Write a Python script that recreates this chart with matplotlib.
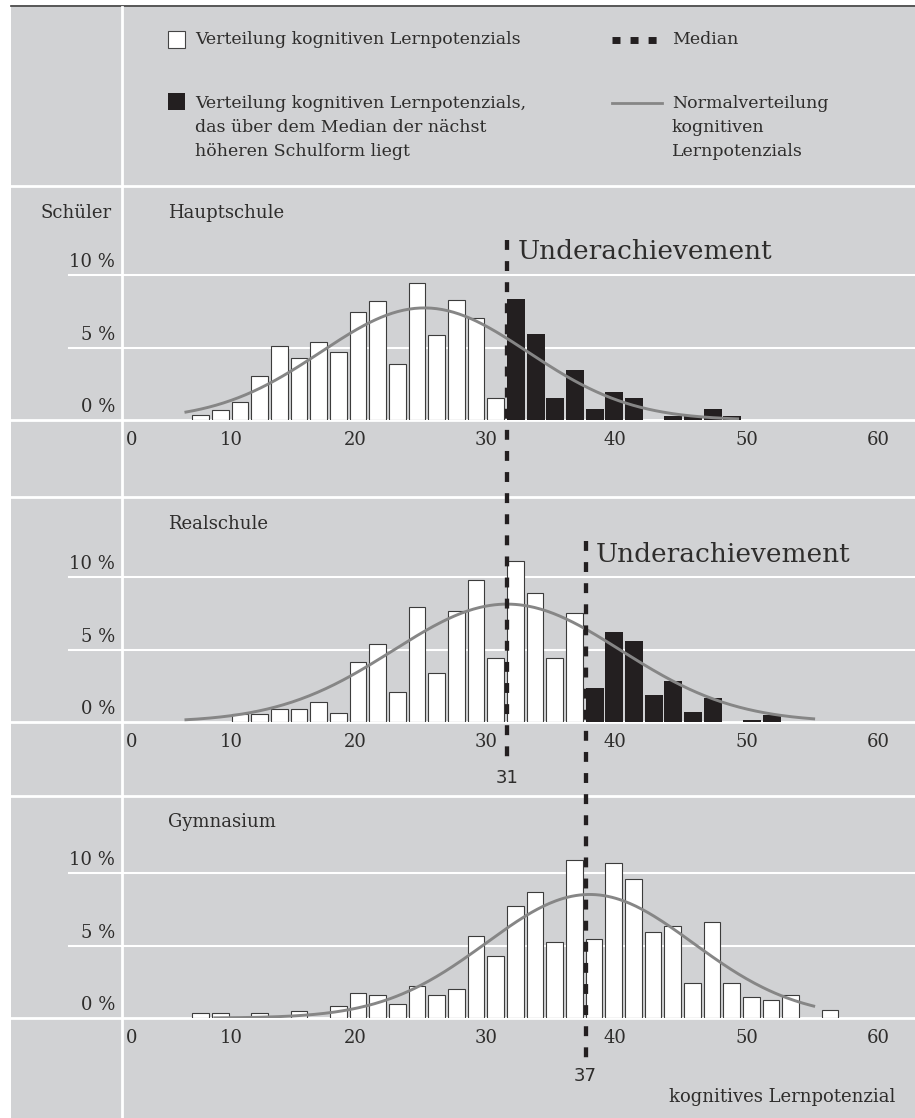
import numpy as np
import matplotlib.pyplot as plt
from matplotlib.patches import Rectangle

W, H = 915, 1118
BG = '#d1d2d4'
INK = '#2e2d2c'
DARK = '#231f20'
CURVE = '#868686'

plt.rcParams['font.family'] = ['DejaVu Serif', 'DejaVu Sans']

# Klassen: ab 7 in Schritten von 1,5 Punkten, Werte = Anteil der Schüler in %
bin_start = 7.0
bin_width = 1.5
hauptschule = [0.32, 0.67, 1.24, 3.05, 5.07, 4.27, 5.41, 4.68, 7.45, 8.23, 3.83, 9.45, 5.87, 8.30, 7.06, 1.49,
               8.33, 5.92, 1.54, 3.44, 0.78, 1.93, 1.54, 0.00, 0.30, 0.30, 0.76, 0.28, 0, 0, 0, 0, 0]
realschule = [0, 0, 0.58, 0.58, 0.90, 0.88, 1.39, 0.65, 4.16, 5.40, 2.08, 7.94, 3.39, 7.64, 9.79, 4.39,
              11.1, 8.89, 4.39, 7.50, 2.36, 6.21, 5.59, 1.85, 2.82, 0.67, 1.64, 0.00, 0.12, 0.46, 0, 0, 0]
gymnasium = [0.37, 0.37, 0.00, 0.37, 0.00, 0.50, 0.00, 0.84, 1.69, 1.60, 0.98, 2.24, 1.60, 2.03, 5.66, 4.30,
             7.69, 8.70, 5.27, 10.9, 5.43, 10.7, 9.57, 5.91, 6.37, 2.42, 6.60, 2.42, 1.44, 1.26, 1.60, 0.00, 0.55]

schools = ['Hauptschule', 'Realschule', 'Gymnasium']
values = [hauptschule, realschule, gymnasium]
# Median der nächst höheren Schulform (Grenze für schwarze Balken)
next_median = [31, 37, None]
medians = {'Realschule': 31, 'Gymnasium': 37}

# Normalverteilung: Mittelwert, Standardabweichung, Höhe (%), Bereich
norm_mean = [24.7, 31.0, 37.3]
norm_sd = [7.9, 8.7, 7.9]
norm_peak = [7.73, 8.13, 8.52]
norm_range = [(6.4, 48.7), (6.4, 54.5), (8.6, 54.5)]

tick_pos = [2.4, 10.0, 19.4, 29.4, 39.25, 49.3, 59.3]
tick_labels = ['0', '10', '20', '30', '40', '50', '60']
y_ticks = [0, 5, 10]

# Layout in Pixeln
x0_px, px_per_unit = 100.6, 13.11
left_px = 122
baselines = [420, 722, 1018]
px_per_pct = 14.5
title_y = [213, 524, 822]
xlim = ((left_px - x0_px) / px_per_unit, (W - x0_px) / px_per_unit)

fig = plt.figure(figsize=(W / 100, H / 100), dpi=100)
fig.patch.set_facecolor('white')

bg = fig.add_axes([0, 0, 1, 1])
bg.set_xlim(0, W)
bg.set_ylim(H, 0)
bg.axis('off')
bg.add_patch(Rectangle((11, 7), W - 11, H - 7, facecolor=BG, edgecolor='none', zorder=0))
bg.plot([11, W], [6, 6], color='#3a3a3a', lw=1.2, zorder=1)
for y in (186, 497, 796):
    bg.plot([11, W], [y, y], color='white', lw=2, zorder=1)
bg.plot([left_px, left_px], [7, H], color='white', lw=2, zorder=1)

# Legende
bg.add_patch(Rectangle((168, 31), 17, 17, facecolor='white', edgecolor='#444444', lw=0.8, zorder=2))
bg.text(195, 40, 'Verteilung kognitiven Lernpotenzials', fontsize=12.5, color=INK, va='center')
bg.add_patch(Rectangle((168, 93), 17, 17, facecolor=DARK, edgecolor='none', zorder=2))
for i, line in enumerate(['Verteilung kognitiven Lernpotenzials,',
                          'das über dem Median der nächst',
                          'höheren Schulform liegt']):
    bg.text(195, 103 + 24 * i, line, fontsize=12.5, color=INK, va='center')
bg.plot([612, 658], [40, 40], color=DARK, lw=5, linestyle=(0, (1.15, 1.45)), solid_capstyle='butt',
        dash_capstyle='butt')
bg.text(672, 40, 'Median', fontsize=12.5, color=INK, va='center')
bg.plot([612, 662], [103, 103], color=CURVE, lw=2)
for i, line in enumerate(['Normalverteilung', 'kognitiven', 'Lernpotenzials']):
    bg.text(672, 103 + 24 * i, line, fontsize=12.5, color=INK, va='center')

bg.text(112, 213, 'Schüler', fontsize=13, color=INK, ha='right', va='center')

panel_h = 190
for i, school in enumerate(schools):
    base = baselines[i]
    ax = fig.add_axes([left_px / W, (H - base) / H, (W - left_px) / W, panel_h / H])
    ax.set_xlim(*xlim)
    ax.set_ylim(0, panel_h / px_per_pct)
    ax.set_facecolor('none')
    ax.axis('off')

    span = W - left_px
    for v in (5, 10):
        ax.axhline(v, xmin=(69 - left_px) / span, xmax=1, color='white', lw=1.5, clip_on=False, zorder=0)
    ax.axhline(0, xmin=(11 - left_px) / span, xmax=1, color='white', lw=2, clip_on=False, zorder=0)

    vals = np.array(values[i])
    edges = bin_start + bin_width * np.arange(len(vals))
    if next_median[i] is None:
        above = np.zeros(len(vals), dtype=bool)
    else:
        above = edges >= next_median[i]
    keep = (vals > 0) & ~above
    ax.bar(edges[keep], vals[keep], width=bin_width * 0.85, align='edge', color='white',
           edgecolor='#3c3c3c', lw=0.8, zorder=2)
    keep = (vals > 0) & above
    ax.bar(edges[keep], vals[keep], width=bin_width * 0.92, align='edge', color=DARK,
           edgecolor='none', zorder=2)

    lo, hi = norm_range[i]
    xs = np.linspace(lo, hi, 300)
    ax.plot(xs, norm_peak[i] * np.exp(-0.5 * ((xs - norm_mean[i]) / norm_sd[i]) ** 2),
            color=CURVE, lw=2.1, zorder=3, solid_capstyle='butt')

    for pos, lab in zip(tick_pos, tick_labels):
        ax.text(pos, -20 / px_per_pct, lab, fontsize=13, color=INK, ha='center', va='center',
                clip_on=False)

    for v in y_ticks:
        bg.text(115, base - v * px_per_pct - 13, f'{v} %', fontsize=13, color=INK,
                ha='right', va='center')
    bg.text(168, title_y[i], school, fontsize=13, color=INK, va='center')

# Mediane über alle Panels
top = fig.add_axes([left_px / W, 0, (W - left_px) / W, 1])
top.set_xlim(*xlim)
top.set_ylim(H, 0)
top.axis('off')
med_spans = {'Realschule': (240, 765, 259, 778), 'Gymnasium': (541, 1058, 562, 1076)}
for school, m in medians.items():
    y_top, y_bot, y_text, y_lab = med_spans[school]
    top.vlines(m, y_top, y_bot, color=DARK, lw=3.1, linestyles=[(0, (2.3, 2.6))], zorder=5)
    top.text(m + 0.8, y_text, 'Underachievement', fontsize=19, color=INK, va='baseline')
    top.text(m, y_lab, str(m), fontsize=13, color=INK, ha='center', va='center',
             family='DejaVu Sans')

bg.text(895, 1097, 'kognitives Lernpotenzial', fontsize=13, color=INK, ha='right', va='center')

fig.savefig('out.png', dpi=100, facecolor=fig.get_facecolor())
